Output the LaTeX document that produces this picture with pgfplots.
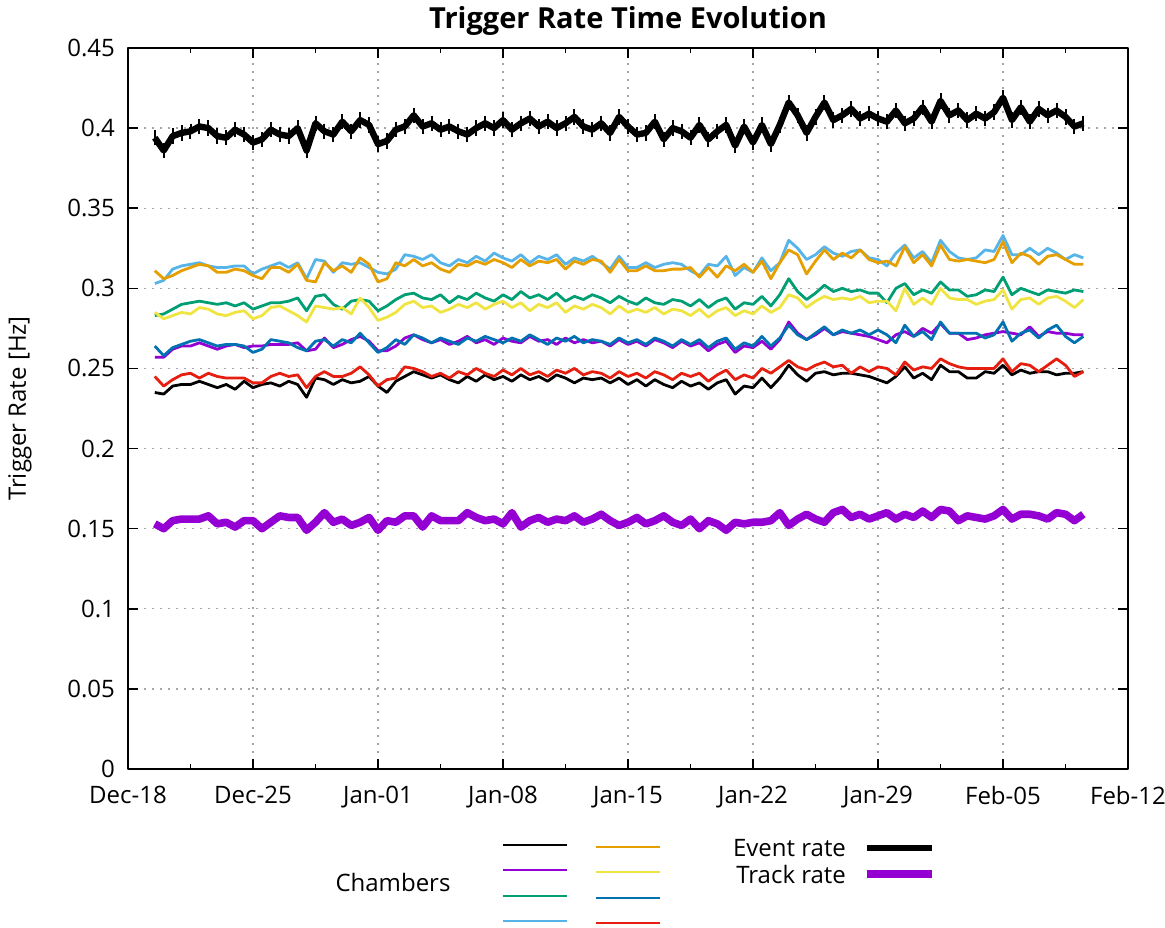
\documentclass[border=0pt]{standalone}
\usepackage{pgfplots}
\usepackage{pgfplotstable}
\usepackage{fontspec}
\setmainfont{Open Sans}
\pgfplotsset{compat=1.18}
\definecolor{gpPurple}{HTML}{9400D3}
\definecolor{gpGreen}{HTML}{009E73}
\definecolor{gpSky}{HTML}{56B4E9}
\definecolor{gpOrange}{HTML}{E69F00}
\definecolor{gpYellow}{HTML}{F0E442}
\definecolor{gpBlue}{HTML}{0072B2}
\definecolor{gpRed}{HTML}{E51E10}
\pgfplotstableread{
d ev tr k p g lb o y b r
1.5 .394 .153 .235 .257 .283 .303 .311 .285 .264 .245
2.0 .386 .150 .234 .257 .284 .305 .306 .281 .258 .239
2.5 .395 .155 .239 .262 .287 .312 .308 .283 .263 .243
3.0 .397 .156 .240 .264 .290 .314 .311 .285 .265 .246
3.5 .398 .156 .240 .264 .291 .315 .313 .284 .267 .247
4.0 .401 .156 .242 .266 .292 .316 .315 .288 .268 .244
4.5 .400 .158 .240 .264 .291 .314 .314 .287 .266 .247
5.0 .395 .153 .238 .262 .290 .313 .310 .284 .264 .245
5.5 .394 .154 .240 .264 .291 .313 .310 .283 .265 .244
6.0 .399 .151 .237 .265 .289 .314 .312 .285 .265 .244
6.5 .396 .155 .242 .263 .291 .314 .311 .286 .264 .244
7.0 .391 .155 .238 .264 .287 .309 .308 .281 .260 .241
7.5 .393 .150 .240 .264 .289 .312 .306 .283 .262 .241
8.0 .399 .154 .241 .265 .291 .314 .313 .288 .268 .245
8.5 .396 .158 .239 .265 .291 .316 .313 .289 .267 .247
9.0 .395 .157 .242 .265 .292 .313 .310 .286 .266 .245
9.5 .400 .157 .240 .266 .294 .316 .315 .283 .263 .246
10.0 .386 .149 .232 .261 .286 .306 .305 .279 .261 .238
10.5 .403 .154 .244 .262 .295 .318 .304 .289 .267 .245
11.0 .398 .160 .243 .269 .296 .317 .316 .288 .268 .248
11.5 .396 .154 .240 .263 .290 .310 .311 .287 .264 .245
12.0 .404 .156 .243 .265 .287 .316 .314 .288 .268 .245
12.5 .398 .152 .241 .268 .292 .315 .310 .284 .266 .247
13.0 .405 .154 .242 .270 .293 .316 .319 .294 .272 .251
13.5 .402 .157 .245 .267 .292 .313 .315 .288 .266 .246
14.0 .390 .149 .239 .261 .286 .310 .304 .280 .260 .239
14.5 .392 .155 .235 .261 .289 .309 .306 .282 .263 .243
15.0 .399 .154 .242 .264 .293 .312 .316 .285 .268 .244
15.5 .401 .158 .245 .269 .296 .321 .314 .290 .265 .251
16.0 .408 .158 .248 .271 .297 .320 .318 .292 .271 .250
16.5 .401 .151 .246 .268 .294 .318 .314 .288 .269 .248
17.0 .403 .158 .244 .266 .293 .321 .316 .289 .266 .245
17.5 .399 .155 .246 .268 .296 .316 .312 .285 .269 .247
18.0 .401 .155 .243 .265 .291 .314 .310 .287 .267 .244
18.5 .398 .155 .241 .267 .295 .318 .315 .290 .265 .248
19.0 .396 .160 .245 .270 .293 .316 .314 .288 .269 .246
19.5 .400 .157 .242 .266 .297 .320 .317 .291 .267 .250
20.0 .403 .155 .246 .268 .294 .317 .315 .287 .270 .247
20.5 .400 .156 .243 .265 .292 .322 .318 .290 .268 .245
21.0 .405 .153 .245 .269 .296 .319 .316 .292 .266 .249
21.5 .399 .160 .242 .267 .293 .317 .313 .288 .269 .246
22.0 .403 .151 .246 .266 .298 .321 .318 .291 .267 .250
22.5 .406 .155 .243 .270 .294 .316 .314 .286 .271 .246
23.0 .401 .157 .245 .267 .296 .320 .317 .290 .268 .248
23.5 .404 .154 .242 .268 .293 .318 .316 .288 .265 .245
24.0 .400 .156 .246 .265 .297 .321 .318 .291 .269 .249
24.5 .403 .155 .244 .269 .292 .315 .312 .285 .267 .247
25.0 .407 .158 .241 .266 .295 .319 .317 .289 .270 .250
25.5 .401 .154 .244 .268 .293 .317 .315 .287 .266 .246
26.0 .399 .156 .243 .266 .296 .320 .318 .290 .268 .248
26.5 .403 .159 .244 .267 .294 .316 .317 .288 .267 .247
27.0 .397 .155 .241 .264 .291 .312 .310 .284 .265 .244
27.5 .407 .152 .244 .268 .295 .320 .318 .289 .269 .248
28.0 .401 .154 .240 .265 .292 .313 .311 .285 .266 .245
28.5 .396 .157 .243 .267 .290 .313 .311 .287 .268 .247
29.0 .397 .153 .239 .264 .294 .316 .314 .285 .265 .244
29.5 .404 .155 .243 .268 .291 .313 .311 .288 .269 .248
30.0 .393 .158 .240 .266 .290 .315 .311 .284 .267 .246
30.5 .400 .154 .238 .263 .293 .316 .312 .287 .264 .243
31.0 .398 .152 .242 .267 .292 .315 .312 .286 .268 .247
31.5 .394 .156 .239 .264 .289 .311 .313 .283 .265 .245
32.0 .402 .150 .241 .266 .293 .308 .307 .287 .268 .247
32.5 .393 .155 .237 .261 .288 .315 .313 .282 .263 .242
33.0 .398 .153 .241 .265 .292 .314 .307 .286 .267 .246
33.5 .402 .149 .243 .267 .294 .320 .314 .288 .269 .249
34.0 .389 .154 .234 .260 .287 .308 .311 .283 .262 .243
34.5 .401 .153 .239 .264 .291 .313 .315 .286 .266 .246
35.0 .391 .154 .238 .263 .290 .310 .310 .284 .264 .244
35.5 .402 .154 .244 .267 .295 .319 .317 .289 .270 .250
36.0 .390 .155 .238 .262 .289 .311 .306 .285 .264 .247
36.5 .402 .160 .244 .268 .296 .316 .316 .288 .269 .251
37.0 .416 .152 .252 .279 .306 .330 .324 .296 .277 .255
37.5 .408 .156 .246 .272 .298 .325 .321 .294 .271 .251
38.0 .397 .159 .242 .268 .293 .318 .309 .288 .268 .249
38.5 .407 .156 .247 .271 .297 .321 .317 .292 .272 .252
39.0 .416 .154 .248 .275 .302 .326 .324 .295 .276 .254
39.5 .405 .160 .246 .271 .298 .322 .318 .293 .271 .251
40.0 .408 .162 .247 .273 .300 .320 .322 .294 .274 .252
40.5 .412 .157 .247 .272 .298 .323 .319 .293 .272 .247
41.0 .406 .159 .246 .271 .299 .324 .324 .295 .274 .251
41.5 .409 .156 .245 .270 .297 .319 .318 .291 .271 .248
42.0 .406 .158 .243 .268 .297 .318 .316 .292 .274 .251
42.5 .404 .160 .241 .266 .291 .314 .317 .292 .271 .250
43.0 .411 .156 .245 .271 .300 .322 .314 .286 .266 .246
43.5 .403 .159 .251 .273 .303 .327 .326 .300 .277 .254
44.0 .406 .157 .244 .270 .296 .319 .316 .290 .270 .249
44.5 .413 .161 .247 .275 .299 .323 .321 .294 .273 .251
45.0 .404 .157 .243 .272 .297 .316 .314 .290 .268 .250
45.5 .417 .162 .252 .278 .304 .330 .327 .300 .279 .256
46.0 .408 .161 .248 .272 .299 .323 .318 .294 .272 .253
46.5 .411 .155 .248 .272 .299 .319 .317 .293 .272 .251
47.0 .405 .158 .244 .268 .295 .318 .318 .293 .272 .250
47.5 .409 .157 .244 .269 .296 .319 .317 .290 .272 .250
48.0 .406 .156 .248 .271 .299 .324 .316 .292 .269 .250
48.5 .410 .158 .247 .272 .298 .323 .318 .293 .271 .250
49.0 .419 .162 .252 .273 .307 .333 .329 .299 .279 .256
49.5 .405 .156 .246 .272 .296 .321 .316 .287 .267 .248
50.0 .413 .159 .249 .271 .300 .321 .322 .293 .272 .253
50.5 .404 .159 .247 .276 .298 .325 .320 .294 .274 .252
51.0 .412 .158 .248 .270 .296 .321 .315 .290 .269 .248
51.5 .408 .156 .248 .273 .299 .325 .320 .294 .274 .252
52.0 .411 .160 .246 .272 .298 .322 .321 .295 .277 .256
52.5 .407 .159 .247 .272 .297 .318 .318 .292 .270 .252
53.0 .401 .155 .247 .271 .299 .321 .315 .288 .266 .245
53.5 .403 .159 .248 .271 .298 .319 .315 .293 .270 .248
}\data
\begin{document}
\begin{tikzpicture}
\useasboundingbox (-64pt,-79pt) rectangle (518.5pt,384.5pt);
\begin{axis}[
  scale only axis, width=500pt, height=360.5pt,
  xmin=0, xmax=56, ymin=0, ymax=0.45,
  xtick={0,7,...,56},
  xticklabels={Dec-18,Dec-25,Jan-01,Jan-08,Jan-15,Jan-22,Jan-29,Feb-05,Feb-12},
  minor x tick num=1,
  ytick={0,0.05,...,0.45},
  yticklabels={0,0.05,0.1,0.15,0.2,0.25,0.3,0.35,0.4,0.45},
  /pgf/number format/assume math mode=true,
  tick label style={font=\fontsize{12}{14}\selectfont},
  xticklabel style={yshift=-5pt},
  yticklabel style={xshift=-3pt},
  tick align=inside,
  major tick length=5pt, minor tick length=2.5pt,
  every tick/.style={black, line width=0.8pt},
  axis line style={line width=1pt},
  grid=major,
  major grid style={gray!70, line width=0.7pt, dash pattern=on 0.8pt off 3.2pt},
  ylabel={Trigger Rate [Hz]},
  ylabel style={font=\fontsize{12}{14}\selectfont, at={(axis description cs:-0.108,0.5)}, anchor=center},
  line join=round,
]
\addplot[black, line width=1.4pt] table[x=d,y=k]{\data};
\addplot[gpPurple, line width=1.4pt] table[x=d,y=p]{\data};
\addplot[gpGreen, line width=1.4pt] table[x=d,y=g]{\data};
\addplot[gpSky, line width=1.4pt] table[x=d,y=lb]{\data};
\addplot[gpOrange, line width=1.4pt] table[x=d,y=o]{\data};
\addplot[gpYellow, line width=1.4pt] table[x=d,y=y]{\data};
\addplot[gpBlue, line width=1.4pt] table[x=d,y=b]{\data};
\addplot[gpRed, line width=1.4pt] table[x=d,y=r]{\data};
\addplot[black, line width=3.2pt, error bars/.cd, y dir=both, y fixed=0.0028,
  error bar style={line width=1pt, black},
  error mark options={line width=1pt, mark size=1.6pt, black}]
  table[x=d,y=ev]{\data};
\addplot[gpPurple, line width=3.8pt] table[x=d,y=tr]{\data};
\end{axis}
% title
\node[font=\fontsize{14.5}{16}\selectfont\bfseries, anchor=base] at (250pt,370pt) {Trigger Rate Time Evolution};
% legend
\node[font=\fontsize{12}{14}\selectfont] at (132.5pt,-56.5pt) {Chambers};
\draw[black, line width=1.4pt] (187.5pt,-38pt) -- (219.5pt,-38pt);
\draw[gpPurple, line width=1.4pt] (187.5pt,-50.5pt) -- (219.5pt,-50.5pt);
\draw[gpGreen, line width=1.4pt] (187.5pt,-63.5pt) -- (219.5pt,-63.5pt);
\draw[gpSky, line width=1.4pt] (187.5pt,-76pt) -- (219.5pt,-76pt);
\draw[gpOrange, line width=1.4pt] (234pt,-39pt) -- (266pt,-39pt);
\draw[gpYellow, line width=1.4pt] (234pt,-51.5pt) -- (266pt,-51.5pt);
\draw[gpBlue, line width=1.4pt] (234pt,-64.5pt) -- (266pt,-64.5pt);
\draw[gpRed, line width=1.4pt] (234pt,-77pt) -- (266pt,-77pt);
\node[font=\fontsize{12}{14}\selectfont, anchor=east] at (362.5pt,-39.5pt) {Event rate};
\node[font=\fontsize{12}{14}\selectfont, anchor=east] at (362.5pt,-52.5pt) {Track rate};
\draw[black, line width=2.6pt] (369.5pt,-39.5pt) -- (402pt,-39.5pt);
\draw[gpPurple, line width=3.8pt] (369.5pt,-52.5pt) -- (402pt,-52.5pt);
\end{tikzpicture}
\end{document}
